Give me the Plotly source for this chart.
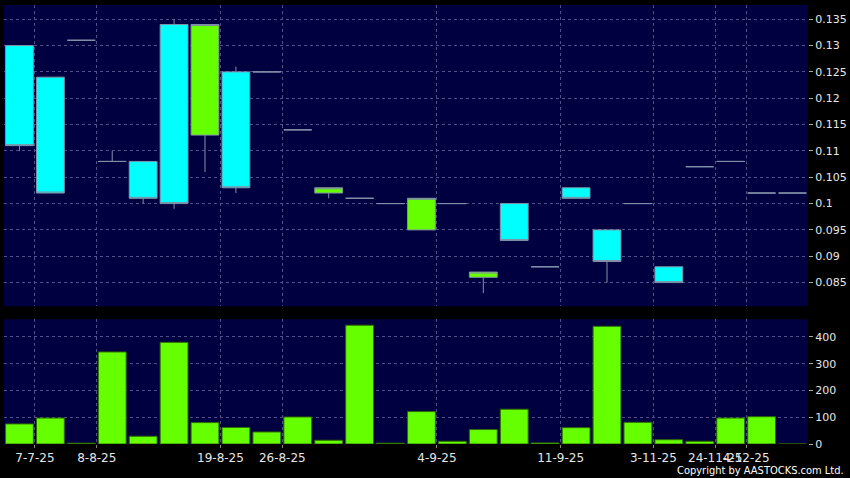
import plotly.graph_objects as go

# ---- data ----
opens  = [0.130, 0.124, 0.131, 0.108, 0.108, 0.134, 0.113, 0.125, 0.125, 0.114,
          0.102, 0.101, 0.100, 0.095, 0.100, 0.086, 0.100, 0.088, 0.103, 0.095,
          0.100, 0.088, 0.107, 0.108, 0.102, 0.102]
highs  = [0.130, 0.124, 0.131, 0.110, 0.108, 0.135, 0.134, 0.126, 0.125, 0.114,
          0.103, 0.101, 0.100, 0.101, 0.100, 0.087, 0.100, 0.088, 0.103, 0.095,
          0.100, 0.088, 0.107, 0.108, 0.102, 0.102]
lows   = [0.110, 0.102, 0.131, 0.108, 0.100, 0.099, 0.106, 0.102, 0.125, 0.114,
          0.101, 0.101, 0.100, 0.095, 0.100, 0.083, 0.093, 0.088, 0.101, 0.085,
          0.100, 0.085, 0.107, 0.108, 0.102, 0.102]
closes = [0.111, 0.102, 0.131, 0.108, 0.101, 0.100, 0.134, 0.103, 0.125, 0.114,
          0.103, 0.101, 0.100, 0.101, 0.100, 0.087, 0.093, 0.088, 0.101, 0.089,
          0.100, 0.085, 0.107, 0.108, 0.102, 0.102]
volumes = [75, 97, 3, 344, 29, 380, 80, 62, 45, 101,
           14, 444, 3, 121, 10, 54, 130, 4, 61, 440,
           81, 16, 10, 97, 102, 0]
tick_positions = [0.5, 2.5, 6.5, 8.5, 13.5, 17.5, 20.5, 22.5, 23.5]
tick_labels = ["7-7-25", "8-8-25", "19-8-25", "26-8-25", "4-9-25", "11-9-25",
               "3-11-25", "24-11-25", "4-12-25"]
price_ticks = [0.085, 0.09, 0.095, 0.1, 0.105, 0.11, 0.115, 0.12, 0.125, 0.13, 0.135]
price_tick_text = ["0.085", "0.09", "0.095", "0.1", "0.105", "0.11", "0.115",
                   "0.12", "0.125", "0.13", "0.135"]
vol_ticks = [0, 100, 200, 300, 400]

x = list(range(len(opens)))

BG = "#000040"
GRID = "#50508a"
OUTLINE = "#8090a8"
GREEN = "#66ff00"
CYAN = "#00ffff"
TXT = "#e6e6e6"
FONT = "DejaVu Sans"

fig = go.Figure()
fig.add_trace(go.Candlestick(
    x=x, open=opens, high=highs, low=lows, close=closes,
    xaxis="x2", yaxis="y2",
    increasing=dict(fillcolor=GREEN, line=dict(color=OUTLINE, width=1)),
    decreasing=dict(fillcolor=CYAN, line=dict(color=OUTLINE, width=1)),
    whiskerwidth=0, showlegend=False, hoverinfo="skip",
))
fig.add_trace(go.Bar(
    x=x, y=volumes, xaxis="x", yaxis="y",
    marker=dict(color=GREEN, line=dict(color="#2f6a00", width=1)),
    showlegend=False, hoverinfo="skip",
))

axis_common = dict(
    showgrid=True, gridcolor=GRID, griddash="3px,3px", gridwidth=1,
    zeroline=False, showline=False, automargin=False,
)
yfont = dict(family=FONT, size=11, color=TXT)
xfont = dict(family=FONT, size=12, color=TXT)

fig.update_layout(
    width=850, height=478,
    paper_bgcolor="black", plot_bgcolor=BG,
    margin=dict(l=4, r=42, t=5, b=34),
    bargap=0.1, boxgap=0.1, boxgroupgap=0,
    xaxis=dict(
        domain=[0, 1], anchor="y", range=[-0.5, 25.5],
        tickmode="array", tickvals=tick_positions, ticktext=tick_labels,
        tickangle=0, ticks="outside", ticklen=3, tickcolor="#888888",
        tickfont=xfont, rangeslider=dict(visible=False), **axis_common,
    ),
    xaxis2=dict(
        domain=[0, 1], anchor="y2", range=[-0.5, 25.5],
        tickmode="array", tickvals=tick_positions, showticklabels=False,
        rangeslider=dict(visible=False), **axis_common,
    ),
    yaxis=dict(
        domain=[0, 0.284], anchor="x", side="right", range=[0, 466],
        tickmode="array", tickvals=vol_ticks, tickfont=yfont,
        ticks="outside", ticklen=4, tickcolor="#aaaaaa", **axis_common,
    ),
    yaxis2=dict(
        domain=[0.3137, 1], anchor="x2", side="right", range=[0.0805, 0.1377],
        tickmode="array", tickvals=price_ticks, ticktext=price_tick_text,
        tickfont=yfont,
        ticks="outside", ticklen=4, tickcolor="#aaaaaa", **axis_common,
    ),
    annotations=[dict(
        text="Copyright by AASTOCKS.com Ltd.", xref="paper", yref="paper",
        x=1.047, y=-0.079, xanchor="right", yanchor="bottom", showarrow=False,
        font=dict(family="DejaVu Sans Condensed, DejaVu Sans", size=11, color="white"),
    )],
)

fig.write_html(
    "out.html",
    config={"displayModeBar": False},
    post_script="document.body.style.margin='0';document.body.style.overflow='hidden';"
                "document.body.style.background='black';",
)
